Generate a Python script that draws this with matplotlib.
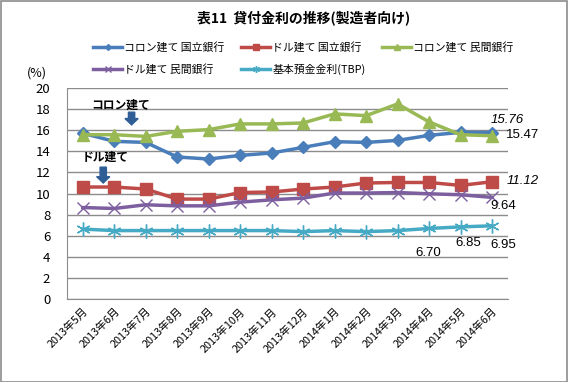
#!/usr/bin/env python3
import matplotlib
matplotlib.use("Agg")
from matplotlib import pyplot as plt
from matplotlib.patches import FancyArrow, Rectangle

plt.rcParams['font.family'] = ['Noto Sans CJK JP', 'DejaVu Sans']

# data
months = ['2013年5月', '2013年6月', '2013年7月', '2013年8月', '2013年9月', '2013年10月',
          '2013年11月', '2013年12月', '2014年1月', '2014年2月', '2014年3月', '2014年4月',
          '2014年5月', '2014年6月']
colon_state = [15.7, 14.94, 14.84, 13.46, 13.27, 13.61, 13.84, 14.37, 14.91, 14.84, 15.03, 15.51, 15.79, 15.76]
dollar_state = [10.62, 10.62, 10.43, 9.48, 9.48, 10.1, 10.15, 10.43, 10.62, 11.0, 11.05, 11.05, 10.77, 11.12]
colon_private = [15.57, 15.57, 15.41, 15.89, 16.05, 16.59, 16.59, 16.68, 17.54, 17.37, 18.48, 16.78, 15.57, 15.47]
dollar_private = [8.68, 8.59, 8.94, 8.84, 8.84, 9.19, 9.41, 9.57, 10.05, 10.05, 10.1, 9.98, 9.89, 9.64]
tbp = [6.64, 6.5, 6.5, 6.5, 6.5, 6.5, 6.5, 6.4, 6.5, 6.4, 6.5, 6.70, 6.85, 6.95]

labels = ['コロン建て 国立銀行', 'ドル建て 国立銀行', 'コロン建て 民間銀行',
          'ドル建て 民間銀行', '基本預金金利(TBP)']
colors = ['#4A7EBB', '#BE4B48', '#98B954', '#7D5FA0', '#46AAC5']

fig = plt.figure(figsize=(5.68, 3.82), dpi=100)
fig.patches.append(Rectangle((0.001, 0.001), 0.997, 0.996, transform=fig.transFigure,
                             fill=False, edgecolor='#8c8c8c', linewidth=1.2))
ax = fig.add_axes([0.118, 0.2165, 0.776, 0.5535])

x = list(range(len(months)))
l1, = ax.plot(x, colon_state, color=colors[0], lw=2.5, marker='D', ms=6)
l2, = ax.plot(x, dollar_state, color=colors[1], lw=2.5, marker='s', ms=8)
l3, = ax.plot(x, colon_private, color=colors[2], lw=2.5, marker='^', ms=9)
l4, = ax.plot(x, dollar_private, color=colors[3], lw=2.5, marker='x', ms=8, mew=1)
l5, = ax.plot(x, tbp, color=colors[4], lw=2.5, marker=(6, 2, 0), ms=10, mew=1)

ax.set_xlim(-0.5, 13.5)
ax.set_ylim(0, 20)
ax.set_yticks(range(0, 21, 2))
ax.set_xticks(x)
ax.set_xticklabels(months, rotation=45, ha='right', rotation_mode='anchor', fontsize=7.8)
ax.tick_params(axis='y', labelsize=9.5, length=0, pad=12)
ax.tick_params(axis='x', length=0, pad=5)
ax.grid(axis='y', color='#8c8c8c', lw=1)
ax.set_axisbelow(True)
for s in ['top', 'right']:
    ax.spines[s].set_visible(False)
for s in ['left', 'bottom']:
    ax.spines[s].set_color('#8c8c8c')

# value labels
num = ['Liberation Sans', 'DejaVu Sans']
ax.text(12.95, 16.95, '15.76', fontsize=9.5, style='italic', family=num, va='center')
ax.text(13.45, 15.5, '15.47', fontsize=9.5, family=num, va='center')
ax.text(13.45, 11.15, '11.12', fontsize=9.5, style='italic', family=num, va='center')
ax.text(12.95, 8.8, '9.64', fontsize=9.5, family=num, va='center')
ax.text(10.55, 4.4, '6.70', fontsize=9.5, family=num, va='center')
ax.text(11.85, 5.3, '6.85', fontsize=9.5, family=num, va='center')
ax.text(12.95, 5.15, '6.95', fontsize=9.5, family=num, va='center')

# annotations with arrows
ax.text(1.2, 18.4, 'コロン建て', fontsize=8.5, fontweight='bold', ha='center', va='center')
ax.add_patch(FancyArrow(1.55, 17.7, 0, -1.2, width=0.2, head_width=0.42, head_length=0.6,
                        length_includes_head=True, color='#2E5E95'))
ax.text(0.7, 13.4, 'ドル建て', fontsize=8.5, fontweight='bold', ha='center', va='center')
ax.add_patch(FancyArrow(0.65, 12.5, 0, -1.5, width=0.2, head_width=0.42, head_length=0.6,
                        length_includes_head=True, color='#2E5E95'))

fig.text(0.065, 0.81, '(%)', fontsize=9, ha='center', va='center')
fig.text(0.535, 0.953, '表11  貸付金利の推移(製造者向け)', fontsize=10, fontweight='bold',
         ha='center', va='center')

# legend filled column-wise, so reorder to read row-wise like the reference
order = [0, 3, 1, 4, 2]
handles = [l1, l2, l3, l4, l5]
leg = fig.legend([handles[i] for i in order], [labels[i] for i in order], ncol=3,
                 loc='center', bbox_to_anchor=(0.534, 0.848), frameon=False, fontsize=7.8,
                 handlelength=2.7, columnspacing=1.5, handletextpad=0.2,
                 labelspacing=1.0, markerscale=0.5)

fig.savefig('out.png', dpi=100)
